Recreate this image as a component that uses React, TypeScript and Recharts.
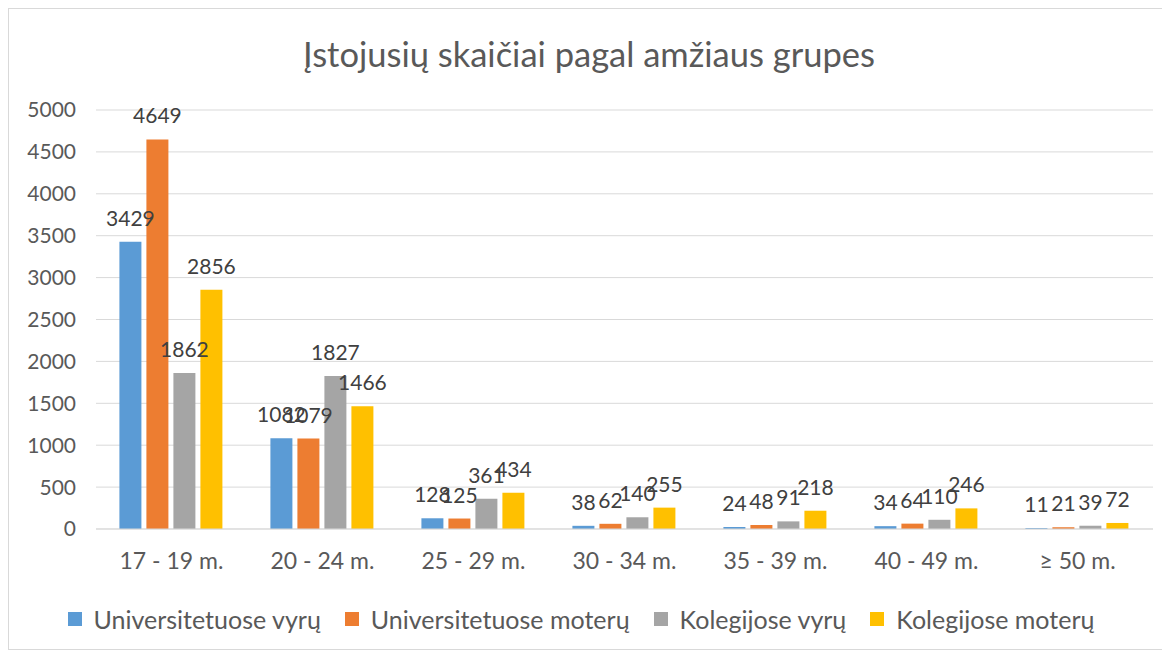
import { BarChart, Bar, XAxis, YAxis, CartesianGrid, Legend, LabelList } from 'recharts';

const groups = ['17 - 19 m.', '20 - 24 m.', '25 - 29 m.', '30 - 34 m.', '35 - 39 m.', '40 - 49 m.', '≥ 50 m.'];
const uniMen = [3429, 1082, 128, 38, 24, 34, 11];
const uniWomen = [4649, 1079, 125, 62, 48, 64, 21];
const colMen = [1862, 1827, 361, 140, 91, 110, 39];
const colWomen = [2856, 1466, 434, 255, 218, 246, 72];
const yTicks = [0, 500, 1000, 1500, 2000, 2500, 3000, 3500, 4000, 4500, 5000];

const data = groups.map((g, i) => ({
  name: g,
  uniMen: uniMen[i],
  uniWomen: uniWomen[i],
  colMen: colMen[i],
  colWomen: colWomen[i],
}));

const series = [
  { key: 'uniMen', label: 'Universitetuose vyrų', color: '#5B9BD5' },
  { key: 'uniWomen', label: 'Universitetuose moterų', color: '#ED7D31' },
  { key: 'colMen', label: 'Kolegijose vyrų', color: '#A5A5A5' },
  { key: 'colWomen', label: 'Kolegijose moterų', color: '#FFC000' },
];

const FONT = 'Lato, "Open Sans", sans-serif';

const LegendContent = () => (
  <div style={{ display: 'flex', justifyContent: 'center', gap: 24, fontFamily: FONT, fontSize: 25, color: '#595959', lineHeight: '30px' }}>
    {series.map((s) => (
      <div key={s.key} style={{ display: 'flex', alignItems: 'center' }}>
        <span style={{ width: 14, height: 14, background: s.color, display: 'inline-block', marginRight: 12 }} />
        <span>{s.label}</span>
      </div>
    ))}
  </div>
);

const App = () => {
  return (
    <div style={{ position: 'relative', width: 1162, height: 642, border: '1px solid #d9d9d9', boxSizing: 'border-box', background: '#fff' }}>
      <div style={{ position: 'absolute', top: 24, left: 0, width: '100%', textAlign: 'center', fontFamily: FONT, fontSize: 34.5, color: '#595959' }}>
        Įstojusių skaičiai pagal amžiaus grupes
      </div>
      <BarChart
        width={1160}
        height={640}
        data={data}
        margin={{ top: 101, right: 16, left: 0, bottom: 30 }}
        barCategoryGap="15.5%"
        barGap={5}
      >
        <CartesianGrid vertical={false} stroke="#d9d9d9" />
        <XAxis
          dataKey="name"
          axisLine={{ stroke: '#d9d9d9' }}
          tickLine={false}
          tickSize={0}
          tickMargin={24}
          tick={{ fill: '#595959', fontSize: 23, fontFamily: FONT }}
          height={60}
        />
        <YAxis
          width={87}
          domain={[0, 5000]}
          ticks={yTicks}
          axisLine={false}
          tickLine={false}
          tickSize={0}
          tickMargin={20}
          tick={{ fill: '#595959', fontSize: 21, fontFamily: FONT }}
        />
        <Legend verticalAlign="bottom" content={<LegendContent />} wrapperStyle={{ bottom: 15 }} />
        {series.map((s) => (
          <Bar key={s.key} dataKey={s.key} name={s.label} fill={s.color} isAnimationActive={false}>
            <LabelList dataKey={s.key} position="top" offset={16} fill="#404040" fontSize={21} fontFamily={FONT} />
          </Bar>
        ))}
      </BarChart>
    </div>
  );
};

export default App;
